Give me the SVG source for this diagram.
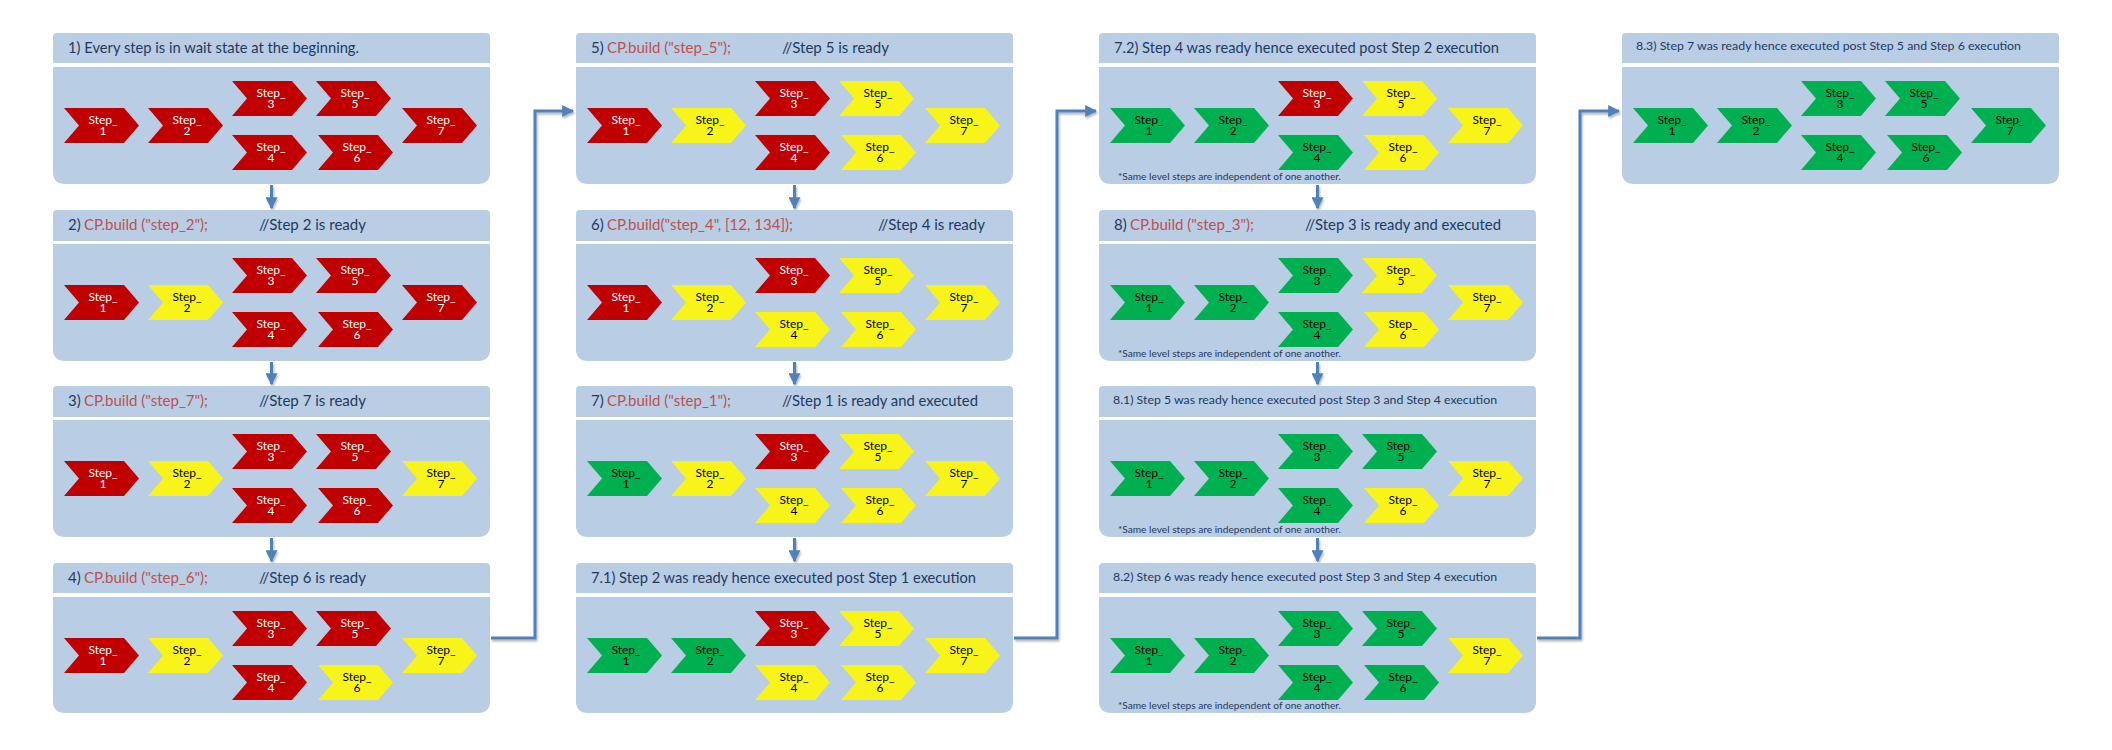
<svg xmlns="http://www.w3.org/2000/svg" xmlns:xlink="http://www.w3.org/1999/xlink" width="2112" height="750" viewBox="0 0 2112 750">
<style>
.pnl{fill:#B9CDE5}
.h{font-family:Lato,"Liberation Sans",sans-serif;font-size:15px;fill:#1F3A5F}
.hs{font-family:Lato,"Liberation Sans",sans-serif;font-size:12px;fill:#1F3A5F}
.code{fill:#C0504D}
.fn{font-family:Lato,"Liberation Sans",sans-serif;font-size:9px;fill:#1F3A5F}
.st text{font-family:Lato,"Liberation Sans",sans-serif;font-size:12px;text-anchor:middle}
.r use{fill:#C00000}.r text{fill:#FFFFFF}
.y use{fill:#F8F41A}.y text{fill:#000000}
.g use{fill:#00B050}.g text{fill:#000000}
.conn{fill:none;stroke:#4F81BD;stroke-width:3;filter:url(#sh)}
</style>
<defs>
<path id="c" d="M0 0H60L75 17.5L60 35H0L15 17.5Z"/>
<marker id="ah" viewBox="0 0 10 10" refX="9" refY="5" markerWidth="12" markerHeight="12" markerUnits="userSpaceOnUse" orient="auto"><path d="M0 0L10 5L0 10Z" fill="#4F81BD"/></marker>
<filter id="sh" filterUnits="userSpaceOnUse" x="0" y="0" width="2112" height="750"><feDropShadow dx="1" dy="2" stdDeviation="1" flood-color="#000" flood-opacity="0.3"/></filter>
</defs>
<rect width="2112" height="750" fill="#FFFFFF"/>

<g id="connectors">
<path class="conn" d="M271.5 185V208" marker-end="url(#ah)"/>
<path class="conn" d="M271.5 362V384" marker-end="url(#ah)"/>
<path class="conn" d="M271.5 538V561" marker-end="url(#ah)"/>
<path class="conn" d="M794.5 185V208" marker-end="url(#ah)"/>
<path class="conn" d="M794.5 362V384" marker-end="url(#ah)"/>
<path class="conn" d="M794.5 538V561" marker-end="url(#ah)"/>
<path class="conn" d="M1317.5 185V208" marker-end="url(#ah)"/>
<path class="conn" d="M1317.5 362V384" marker-end="url(#ah)"/>
<path class="conn" d="M1317.5 538V561" marker-end="url(#ah)"/>
<path class="conn" d="M491 638H535V111H573" marker-end="url(#ah)"/>
<path class="conn" d="M1014 638H1057V111H1096" marker-end="url(#ah)"/>
<path class="conn" d="M1537 638H1580V111H1619" marker-end="url(#ah)"/>
</g>

<!-- Column 1 -->
<g id="p1">
<path class="pnl" d="M53 37Q53 33 57 33H486Q490 33 490 37V63H53Z"/>
<path class="pnl" d="M53 67H490V172Q490 184 478 184H65Q53 184 53 172Z"/>
<text class="h" x="68" y="53" textLength="291" lengthAdjust="spacingAndGlyphs">1) Every step is in wait state at the beginning.</text>
<g class="st">
<g class="r"><use href="#c" x="64" y="108"/><text x="103" y="123.5">Step_<tspan x="103" dy="11.5">1</tspan></text></g>
<g class="r"><use href="#c" x="148" y="108"/><text x="187" y="123.5">Step_<tspan x="187" dy="11.5">2</tspan></text></g>
<g class="r"><use href="#c" x="232" y="81"/><text x="271" y="96.5">Step_<tspan x="271" dy="11.5">3</tspan></text></g>
<g class="r"><use href="#c" x="232" y="135"/><text x="271" y="150.5">Step_<tspan x="271" dy="11.5">4</tspan></text></g>
<g class="r"><use href="#c" x="316" y="81"/><text x="355" y="96.5">Step_<tspan x="355" dy="11.5">5</tspan></text></g>
<g class="r"><use href="#c" x="318" y="135"/><text x="357" y="150.5">Step_<tspan x="357" dy="11.5">6</tspan></text></g>
<g class="r"><use href="#c" x="402" y="108"/><text x="441" y="123.5">Step_<tspan x="441" dy="11.5">7</tspan></text></g>
</g>
</g>

<g id="p2">
<path class="pnl" d="M53 214Q53 210 57 210H486Q490 210 490 214V241H53Z"/>
<path class="pnl" d="M53 244H490V349Q490 361 478 361H65Q53 361 53 349Z"/>
<text class="h" x="68" y="230">2)</text>
<text class="h code" x="84" y="230" textLength="124" lengthAdjust="spacingAndGlyphs">CP.build ("step_2");</text>
<text class="h" x="259" y="230" textLength="107" lengthAdjust="spacingAndGlyphs">//Step 2 is ready</text>
<g class="st">
<g class="r"><use href="#c" x="64" y="285"/><text x="103" y="300.5">Step_<tspan x="103" dy="11.5">1</tspan></text></g>
<g class="y"><use href="#c" x="148" y="285"/><text x="187" y="300.5">Step_<tspan x="187" dy="11.5">2</tspan></text></g>
<g class="r"><use href="#c" x="232" y="258"/><text x="271" y="273.5">Step_<tspan x="271" dy="11.5">3</tspan></text></g>
<g class="r"><use href="#c" x="232" y="312"/><text x="271" y="327.5">Step_<tspan x="271" dy="11.5">4</tspan></text></g>
<g class="r"><use href="#c" x="316" y="258"/><text x="355" y="273.5">Step_<tspan x="355" dy="11.5">5</tspan></text></g>
<g class="r"><use href="#c" x="318" y="312"/><text x="357" y="327.5">Step_<tspan x="357" dy="11.5">6</tspan></text></g>
<g class="r"><use href="#c" x="402" y="285"/><text x="441" y="300.5">Step_<tspan x="441" dy="11.5">7</tspan></text></g>
</g>
</g>

<g id="p3">
<path class="pnl" d="M53 390Q53 386 57 386H486Q490 386 490 390V417H53Z"/>
<path class="pnl" d="M53 420H490V525Q490 537 478 537H65Q53 537 53 525Z"/>
<text class="h" x="68" y="406">3)</text>
<text class="h code" x="84" y="406" textLength="124" lengthAdjust="spacingAndGlyphs">CP.build ("step_7");</text>
<text class="h" x="259" y="406" textLength="107" lengthAdjust="spacingAndGlyphs">//Step 7 is ready</text>
<g class="st">
<g class="r"><use href="#c" x="64" y="461"/><text x="103" y="476.5">Step_<tspan x="103" dy="11.5">1</tspan></text></g>
<g class="y"><use href="#c" x="148" y="461"/><text x="187" y="476.5">Step_<tspan x="187" dy="11.5">2</tspan></text></g>
<g class="r"><use href="#c" x="232" y="434"/><text x="271" y="449.5">Step_<tspan x="271" dy="11.5">3</tspan></text></g>
<g class="r"><use href="#c" x="232" y="488"/><text x="271" y="503.5">Step_<tspan x="271" dy="11.5">4</tspan></text></g>
<g class="r"><use href="#c" x="316" y="434"/><text x="355" y="449.5">Step_<tspan x="355" dy="11.5">5</tspan></text></g>
<g class="r"><use href="#c" x="318" y="488"/><text x="357" y="503.5">Step_<tspan x="357" dy="11.5">6</tspan></text></g>
<g class="y"><use href="#c" x="402" y="461"/><text x="441" y="476.5">Step_<tspan x="441" dy="11.5">7</tspan></text></g>
</g>
</g>

<g id="p4">
<path class="pnl" d="M53 567Q53 563 57 563H486Q490 563 490 567V593H53Z"/>
<path class="pnl" d="M53 597H490V701Q490 713 478 713H65Q53 713 53 701Z"/>
<text class="h" x="68" y="583">4)</text>
<text class="h code" x="84" y="583" textLength="124" lengthAdjust="spacingAndGlyphs">CP.build ("step_6");</text>
<text class="h" x="259" y="583" textLength="107" lengthAdjust="spacingAndGlyphs">//Step 6 is ready</text>
<g class="st">
<g class="r"><use href="#c" x="64" y="638"/><text x="103" y="653.5">Step_<tspan x="103" dy="11.5">1</tspan></text></g>
<g class="y"><use href="#c" x="148" y="638"/><text x="187" y="653.5">Step_<tspan x="187" dy="11.5">2</tspan></text></g>
<g class="r"><use href="#c" x="232" y="611"/><text x="271" y="626.5">Step_<tspan x="271" dy="11.5">3</tspan></text></g>
<g class="r"><use href="#c" x="232" y="665"/><text x="271" y="680.5">Step_<tspan x="271" dy="11.5">4</tspan></text></g>
<g class="r"><use href="#c" x="316" y="611"/><text x="355" y="626.5">Step_<tspan x="355" dy="11.5">5</tspan></text></g>
<g class="y"><use href="#c" x="318" y="665"/><text x="357" y="680.5">Step_<tspan x="357" dy="11.5">6</tspan></text></g>
<g class="y"><use href="#c" x="402" y="638"/><text x="441" y="653.5">Step_<tspan x="441" dy="11.5">7</tspan></text></g>
</g>
</g>

<!-- Column 2 -->
<g id="p5">
<path class="pnl" d="M576 37Q576 33 580 33H1009Q1013 33 1013 37V63H576Z"/>
<path class="pnl" d="M576 67H1013V172Q1013 184 1001 184H588Q576 184 576 172Z"/>
<text class="h" x="591" y="53">5)</text>
<text class="h code" x="607" y="53" textLength="124" lengthAdjust="spacingAndGlyphs">CP.build ("step_5");</text>
<text class="h" x="782" y="53" textLength="107" lengthAdjust="spacingAndGlyphs">//Step 5 is ready</text>
<g class="st">
<g class="r"><use href="#c" x="587" y="108"/><text x="626" y="123.5">Step_<tspan x="626" dy="11.5">1</tspan></text></g>
<g class="y"><use href="#c" x="671" y="108"/><text x="710" y="123.5">Step_<tspan x="710" dy="11.5">2</tspan></text></g>
<g class="r"><use href="#c" x="755" y="81"/><text x="794" y="96.5">Step_<tspan x="794" dy="11.5">3</tspan></text></g>
<g class="r"><use href="#c" x="755" y="135"/><text x="794" y="150.5">Step_<tspan x="794" dy="11.5">4</tspan></text></g>
<g class="y"><use href="#c" x="839" y="81"/><text x="878" y="96.5">Step_<tspan x="878" dy="11.5">5</tspan></text></g>
<g class="y"><use href="#c" x="841" y="135"/><text x="880" y="150.5">Step_<tspan x="880" dy="11.5">6</tspan></text></g>
<g class="y"><use href="#c" x="925" y="108"/><text x="964" y="123.5">Step_<tspan x="964" dy="11.5">7</tspan></text></g>
</g>
</g>

<g id="p6">
<path class="pnl" d="M576 214Q576 210 580 210H1009Q1013 210 1013 214V241H576Z"/>
<path class="pnl" d="M576 244H1013V349Q1013 361 1001 361H588Q576 361 576 349Z"/>
<text class="h" x="591" y="230">6)</text>
<text class="h code" x="607" y="230" textLength="186" lengthAdjust="spacingAndGlyphs">CP.build("step_4", [12, 134]);</text>
<text class="h" x="878" y="230" textLength="107" lengthAdjust="spacingAndGlyphs">//Step 4 is ready</text>
<g class="st">
<g class="r"><use href="#c" x="587" y="285"/><text x="626" y="300.5">Step_<tspan x="626" dy="11.5">1</tspan></text></g>
<g class="y"><use href="#c" x="671" y="285"/><text x="710" y="300.5">Step_<tspan x="710" dy="11.5">2</tspan></text></g>
<g class="r"><use href="#c" x="755" y="258"/><text x="794" y="273.5">Step_<tspan x="794" dy="11.5">3</tspan></text></g>
<g class="y"><use href="#c" x="755" y="312"/><text x="794" y="327.5">Step_<tspan x="794" dy="11.5">4</tspan></text></g>
<g class="y"><use href="#c" x="839" y="258"/><text x="878" y="273.5">Step_<tspan x="878" dy="11.5">5</tspan></text></g>
<g class="y"><use href="#c" x="841" y="312"/><text x="880" y="327.5">Step_<tspan x="880" dy="11.5">6</tspan></text></g>
<g class="y"><use href="#c" x="925" y="285"/><text x="964" y="300.5">Step_<tspan x="964" dy="11.5">7</tspan></text></g>
</g>
</g>

<g id="p7">
<path class="pnl" d="M576 390Q576 386 580 386H1009Q1013 386 1013 390V417H576Z"/>
<path class="pnl" d="M576 420H1013V525Q1013 537 1001 537H588Q576 537 576 525Z"/>
<text class="h" x="591" y="406">7)</text>
<text class="h code" x="607" y="406" textLength="124" lengthAdjust="spacingAndGlyphs">CP.build ("step_1");</text>
<text class="h" x="782" y="406" textLength="196" lengthAdjust="spacingAndGlyphs">//Step 1 is ready and executed</text>
<g class="st">
<g class="g"><use href="#c" x="587" y="461"/><text x="626" y="476.5">Step_<tspan x="626" dy="11.5">1</tspan></text></g>
<g class="y"><use href="#c" x="671" y="461"/><text x="710" y="476.5">Step_<tspan x="710" dy="11.5">2</tspan></text></g>
<g class="r"><use href="#c" x="755" y="434"/><text x="794" y="449.5">Step_<tspan x="794" dy="11.5">3</tspan></text></g>
<g class="y"><use href="#c" x="755" y="488"/><text x="794" y="503.5">Step_<tspan x="794" dy="11.5">4</tspan></text></g>
<g class="y"><use href="#c" x="839" y="434"/><text x="878" y="449.5">Step_<tspan x="878" dy="11.5">5</tspan></text></g>
<g class="y"><use href="#c" x="841" y="488"/><text x="880" y="503.5">Step_<tspan x="880" dy="11.5">6</tspan></text></g>
<g class="y"><use href="#c" x="925" y="461"/><text x="964" y="476.5">Step_<tspan x="964" dy="11.5">7</tspan></text></g>
</g>
</g>

<g id="p7_1">
<path class="pnl" d="M576 567Q576 563 580 563H1009Q1013 563 1013 567V593H576Z"/>
<path class="pnl" d="M576 597H1013V701Q1013 713 1001 713H588Q576 713 576 701Z"/>
<text class="h" x="591" y="583" textLength="385" lengthAdjust="spacingAndGlyphs">7.1) Step 2 was ready hence executed post Step 1 execution</text>
<g class="st">
<g class="g"><use href="#c" x="587" y="638"/><text x="626" y="653.5">Step_<tspan x="626" dy="11.5">1</tspan></text></g>
<g class="g"><use href="#c" x="671" y="638"/><text x="710" y="653.5">Step_<tspan x="710" dy="11.5">2</tspan></text></g>
<g class="r"><use href="#c" x="755" y="611"/><text x="794" y="626.5">Step_<tspan x="794" dy="11.5">3</tspan></text></g>
<g class="y"><use href="#c" x="755" y="665"/><text x="794" y="680.5">Step_<tspan x="794" dy="11.5">4</tspan></text></g>
<g class="y"><use href="#c" x="839" y="611"/><text x="878" y="626.5">Step_<tspan x="878" dy="11.5">5</tspan></text></g>
<g class="y"><use href="#c" x="841" y="665"/><text x="880" y="680.5">Step_<tspan x="880" dy="11.5">6</tspan></text></g>
<g class="y"><use href="#c" x="925" y="638"/><text x="964" y="653.5">Step_<tspan x="964" dy="11.5">7</tspan></text></g>
</g>
</g>

<!-- Column 3 -->
<g id="p7_2">
<path class="pnl" d="M1099 37Q1099 33 1103 33H1532Q1536 33 1536 37V63H1099Z"/>
<path class="pnl" d="M1099 67H1536V172Q1536 184 1524 184H1111Q1099 184 1099 172Z"/>
<text class="h" x="1114" y="53" textLength="385" lengthAdjust="spacingAndGlyphs">7.2) Step 4 was ready hence executed post Step 2 execution</text>
<g class="st">
<g class="g"><use href="#c" x="1110" y="108"/><text x="1149" y="123.5">Step_<tspan x="1149" dy="11.5">1</tspan></text></g>
<g class="g"><use href="#c" x="1194" y="108"/><text x="1233" y="123.5">Step_<tspan x="1233" dy="11.5">2</tspan></text></g>
<g class="r"><use href="#c" x="1278" y="81"/><text x="1317" y="96.5">Step_<tspan x="1317" dy="11.5">3</tspan></text></g>
<g class="g"><use href="#c" x="1278" y="135"/><text x="1317" y="150.5">Step_<tspan x="1317" dy="11.5">4</tspan></text></g>
<g class="y"><use href="#c" x="1362" y="81"/><text x="1401" y="96.5">Step_<tspan x="1401" dy="11.5">5</tspan></text></g>
<g class="y"><use href="#c" x="1364" y="135"/><text x="1403" y="150.5">Step_<tspan x="1403" dy="11.5">6</tspan></text></g>
<g class="y"><use href="#c" x="1448" y="108"/><text x="1487" y="123.5">Step_<tspan x="1487" dy="11.5">7</tspan></text></g>
</g>
<text class="fn" x="1118" y="180" textLength="223" lengthAdjust="spacingAndGlyphs">*Same level steps are independent of one another.</text>
</g>

<g id="p8">
<path class="pnl" d="M1099 214Q1099 210 1103 210H1532Q1536 210 1536 214V241H1099Z"/>
<path class="pnl" d="M1099 244H1536V349Q1536 361 1524 361H1111Q1099 361 1099 349Z"/>
<text class="h" x="1114" y="230">8)</text>
<text class="h code" x="1130" y="230" textLength="124" lengthAdjust="spacingAndGlyphs">CP.build ("step_3");</text>
<text class="h" x="1305" y="230" textLength="196" lengthAdjust="spacingAndGlyphs">//Step 3 is ready and executed</text>
<g class="st">
<g class="g"><use href="#c" x="1110" y="285"/><text x="1149" y="300.5">Step_<tspan x="1149" dy="11.5">1</tspan></text></g>
<g class="g"><use href="#c" x="1194" y="285"/><text x="1233" y="300.5">Step_<tspan x="1233" dy="11.5">2</tspan></text></g>
<g class="g"><use href="#c" x="1278" y="258"/><text x="1317" y="273.5">Step_<tspan x="1317" dy="11.5">3</tspan></text></g>
<g class="g"><use href="#c" x="1278" y="312"/><text x="1317" y="327.5">Step_<tspan x="1317" dy="11.5">4</tspan></text></g>
<g class="y"><use href="#c" x="1362" y="258"/><text x="1401" y="273.5">Step_<tspan x="1401" dy="11.5">5</tspan></text></g>
<g class="y"><use href="#c" x="1364" y="312"/><text x="1403" y="327.5">Step_<tspan x="1403" dy="11.5">6</tspan></text></g>
<g class="y"><use href="#c" x="1448" y="285"/><text x="1487" y="300.5">Step_<tspan x="1487" dy="11.5">7</tspan></text></g>
</g>
<text class="fn" x="1118" y="357" textLength="223" lengthAdjust="spacingAndGlyphs">*Same level steps are independent of one another.</text>
</g>

<g id="p8_1">
<path class="pnl" d="M1099 390Q1099 386 1103 386H1532Q1536 386 1536 390V417H1099Z"/>
<path class="pnl" d="M1099 420H1536V525Q1536 537 1524 537H1111Q1099 537 1099 525Z"/>
<text class="hs" x="1113" y="404" textLength="384" lengthAdjust="spacingAndGlyphs">8.1) Step 5 was ready hence executed post Step 3 and Step 4 execution</text>
<g class="st">
<g class="g"><use href="#c" x="1110" y="461"/><text x="1149" y="476.5">Step_<tspan x="1149" dy="11.5">1</tspan></text></g>
<g class="g"><use href="#c" x="1194" y="461"/><text x="1233" y="476.5">Step_<tspan x="1233" dy="11.5">2</tspan></text></g>
<g class="g"><use href="#c" x="1278" y="434"/><text x="1317" y="449.5">Step_<tspan x="1317" dy="11.5">3</tspan></text></g>
<g class="g"><use href="#c" x="1278" y="488"/><text x="1317" y="503.5">Step_<tspan x="1317" dy="11.5">4</tspan></text></g>
<g class="g"><use href="#c" x="1362" y="434"/><text x="1401" y="449.5">Step_<tspan x="1401" dy="11.5">5</tspan></text></g>
<g class="y"><use href="#c" x="1364" y="488"/><text x="1403" y="503.5">Step_<tspan x="1403" dy="11.5">6</tspan></text></g>
<g class="y"><use href="#c" x="1448" y="461"/><text x="1487" y="476.5">Step_<tspan x="1487" dy="11.5">7</tspan></text></g>
</g>
<text class="fn" x="1118" y="533" textLength="223" lengthAdjust="spacingAndGlyphs">*Same level steps are independent of one another.</text>
</g>

<g id="p8_2">
<path class="pnl" d="M1099 567Q1099 563 1103 563H1532Q1536 563 1536 567V593H1099Z"/>
<path class="pnl" d="M1099 597H1536V701Q1536 713 1524 713H1111Q1099 713 1099 701Z"/>
<text class="hs" x="1113" y="581" textLength="384" lengthAdjust="spacingAndGlyphs">8.2) Step 6 was ready hence executed post Step 3 and Step 4 execution</text>
<g class="st">
<g class="g"><use href="#c" x="1110" y="638"/><text x="1149" y="653.5">Step_<tspan x="1149" dy="11.5">1</tspan></text></g>
<g class="g"><use href="#c" x="1194" y="638"/><text x="1233" y="653.5">Step_<tspan x="1233" dy="11.5">2</tspan></text></g>
<g class="g"><use href="#c" x="1278" y="611"/><text x="1317" y="626.5">Step_<tspan x="1317" dy="11.5">3</tspan></text></g>
<g class="g"><use href="#c" x="1278" y="665"/><text x="1317" y="680.5">Step_<tspan x="1317" dy="11.5">4</tspan></text></g>
<g class="g"><use href="#c" x="1362" y="611"/><text x="1401" y="626.5">Step_<tspan x="1401" dy="11.5">5</tspan></text></g>
<g class="g"><use href="#c" x="1364" y="665"/><text x="1403" y="680.5">Step_<tspan x="1403" dy="11.5">6</tspan></text></g>
<g class="y"><use href="#c" x="1448" y="638"/><text x="1487" y="653.5">Step_<tspan x="1487" dy="11.5">7</tspan></text></g>
</g>
<text class="fn" x="1118" y="709" textLength="223" lengthAdjust="spacingAndGlyphs">*Same level steps are independent of one another.</text>
</g>

<!-- Column 4 -->
<g id="p8_3">
<path class="pnl" d="M1622 37Q1622 33 1626 33H2055Q2059 33 2059 37V63H1622Z"/>
<path class="pnl" d="M1622 67H2059V172Q2059 184 2047 184H1634Q1622 184 1622 172Z"/>
<text class="hs" x="1636" y="50" textLength="385" lengthAdjust="spacingAndGlyphs">8.3) Step 7 was ready hence executed post Step 5 and Step 6 execution</text>
<g class="st">
<g class="g"><use href="#c" x="1633" y="108"/><text x="1672" y="123.5">Step_<tspan x="1672" dy="11.5">1</tspan></text></g>
<g class="g"><use href="#c" x="1717" y="108"/><text x="1756" y="123.5">Step_<tspan x="1756" dy="11.5">2</tspan></text></g>
<g class="g"><use href="#c" x="1801" y="81"/><text x="1840" y="96.5">Step_<tspan x="1840" dy="11.5">3</tspan></text></g>
<g class="g"><use href="#c" x="1801" y="135"/><text x="1840" y="150.5">Step_<tspan x="1840" dy="11.5">4</tspan></text></g>
<g class="g"><use href="#c" x="1885" y="81"/><text x="1924" y="96.5">Step_<tspan x="1924" dy="11.5">5</tspan></text></g>
<g class="g"><use href="#c" x="1887" y="135"/><text x="1926" y="150.5">Step_<tspan x="1926" dy="11.5">6</tspan></text></g>
<g class="g"><use href="#c" x="1971" y="108"/><text x="2010" y="123.5">Step_<tspan x="2010" dy="11.5">7</tspan></text></g>
</g>
</g>
</svg>
